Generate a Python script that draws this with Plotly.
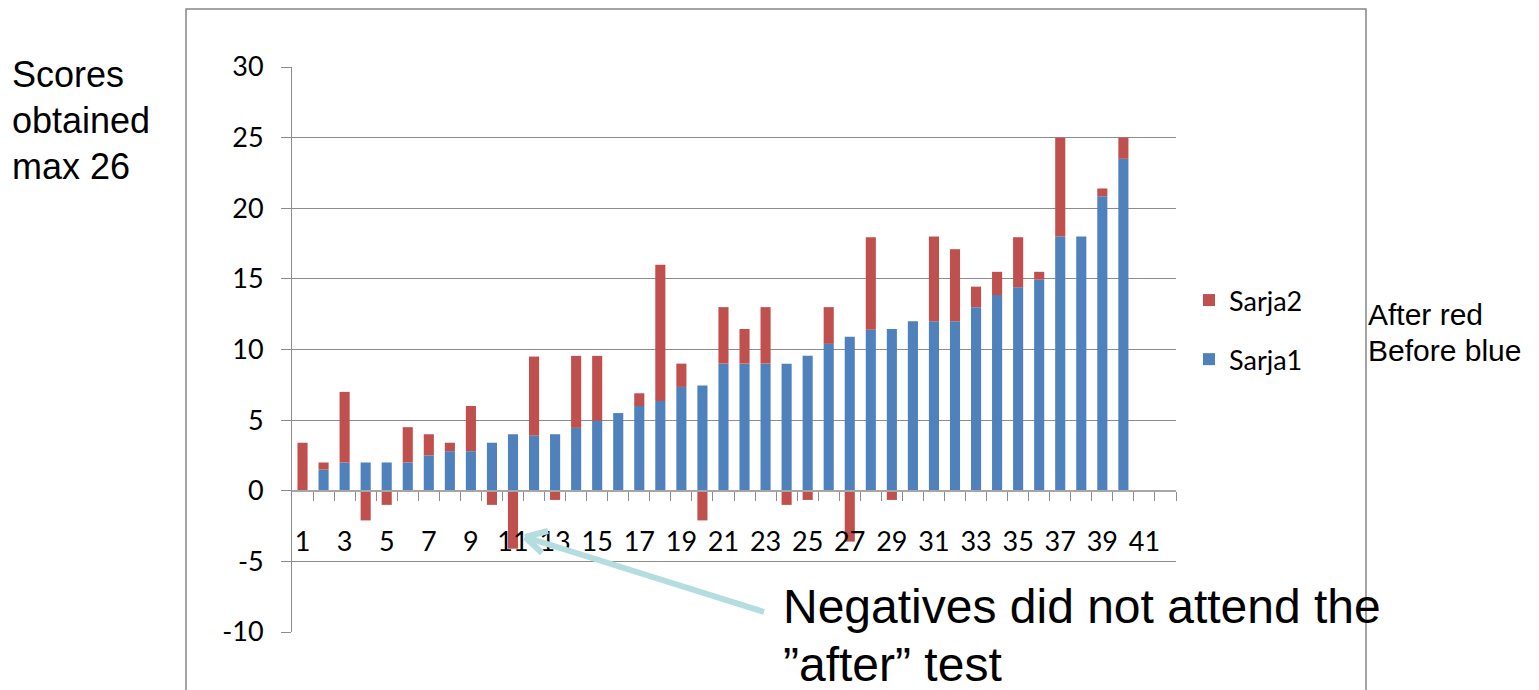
import plotly.graph_objects as go

# ---------------- data ----------------
categories = list(range(1, 43))
sarja1 = [0, 1.5, 2, 2, 2, 2, 2.5, 2.8, 2.8, 3.4,
          4, 3.9, 4, 4.45, 4.95, 5.5, 6, 6.35, 7.35, 7.45,
          9, 9, 9, 9, 9.55, 10.4, 10.9, 11.4, 11.45, 12,
          12, 12, 13, 13.85, 14.4, 14.95, 18, 18, 20.85, 23.5,
          None, None]
sarja2 = [3.4, 0.5, 5, -2.1, -1, 2.5, 1.5, 0.6, 3.2, -1,
          -4.1, 5.6, -0.65, 5.1, 4.6, 0, 0.9, 9.65, 1.65, -2.1,
          4, 2.45, 4, -1, -0.65, 2.6, -3.6, 6.55, -0.65, 0,
          6, 5.1, 1.45, 1.65, 3.55, 0.55, 7, 0, 0.55, 1.5,
          None, None]
x_ticks = list(range(1, 42, 2))
x_bounds = [i + 0.5 for i in range(1, 43)]
y_ticks = list(range(-10, 31, 5))
y_ticktext = [str(v) for v in y_ticks]

# ---------------- layout helpers (screen pixel -> paper) ----------------
OFF = 8                      # page body margin
SW, SH = 1539, 690           # screen size
W, H = SW - OFF, SH - OFF    # figure size
L, R, T, B = 292, 1176, 67, 632   # plot area in screen pixels


def px(x):
    return (x - L) / (R - L)


def py(y):
    return (B - y) / (B - T)


BLUE = "#4f81bd"
RED = "#c0504d"
GRID = "#8c8c8c"
TICKFONT = dict(family="Lato", size=27, color="black")
TXTFONT = "Liberation Sans"

fig = go.Figure()
fig.add_trace(go.Bar(x=categories, y=sarja1, name="Sarja1", marker_color=BLUE,
                     marker_line_width=0, legendrank=2, legendgroup="s1"))
fig.add_trace(go.Bar(x=categories, y=sarja2, name="Sarja2", marker_color=RED,
                     marker_line_width=0, legendrank=1, legendgroup="s2"))

fig.update_layout(
    width=W, height=H,
    margin=dict(l=L - OFF, r=SW - R, t=T - OFF, b=SH - B, pad=0),
    barmode="relative", bargap=0.52,
    plot_bgcolor="white", paper_bgcolor="white",
    legend=dict(x=px(1189), y=py(276), xanchor="left", yanchor="top",
                font=dict(family="Lato", size=27, color="black"),
                traceorder="grouped", tracegroupgap=21,
                bgcolor="rgba(0,0,0,0)"),
    xaxis=dict(range=[0.5, 42.5], tickmode="array", tickvals=x_ticks,
               ticktext=[str(v) for v in x_ticks], ticks="", ticklen=0,
               tickfont=TICKFONT, showgrid=False, zeroline=False,
               showline=True, linecolor="#a6a6a6", linewidth=1.5,
               anchor="free", position=0.25, ticklabelstandoff=27,
               minor=dict(tickmode="array", tickvals=x_bounds, ticks="outside",
                          ticklen=9, tickcolor=GRID, tickwidth=1, showgrid=False)),
    yaxis=dict(range=[-10, 30], domain=[0, 1], tickmode="array", tickvals=y_ticks,
               ticktext=y_ticktext,
               tickfont=TICKFONT, showgrid=True, gridcolor=GRID, gridwidth=1,
               zeroline=False, showline=True, linecolor=GRID, linewidth=1,
               ticks="outside", ticklen=10, tickcolor=GRID, ticklabelstandoff=12),
)

# outer chart border
fig.add_shape(type="rect", xref="paper", yref="paper",
              x0=px(186), x1=px(1366), y0=py(9), y1=py(702),
              line=dict(color="#868686", width=1.5), layer="below")


def add_lines(lines, x, y0, dy, size):
    for i, t in enumerate(lines):
        fig.add_annotation(text=t, xref="paper", yref="paper",
                           x=px(x), y=py(y0 + i * dy), xanchor="left", yanchor="middle",
                           showarrow=False, font=dict(family=TXTFONT, size=size, color="black"))


add_lines(["Scores", "obtained", "max 26"], 10, 74, 46, 36)
add_lines(["After red", "Before blue"], 1366, 314, 37, 30)
add_lines(["Negatives did not attend the", "\u201dafter\u201d test"], 781, 606, 58, 48)

# arrow
ARROW = "#b4dde0"
head = (525, 537)
tail = (764, 612)
for (xa, ya) in [tail, (548, 531), (542, 553)]:
    fig.add_shape(type="line", xref="paper", yref="paper",
                  x0=px(xa), y0=py(ya), x1=px(head[0]), y1=py(head[1]),
                  line=dict(color=ARROW, width=6))

fig.write_html("out.html")
